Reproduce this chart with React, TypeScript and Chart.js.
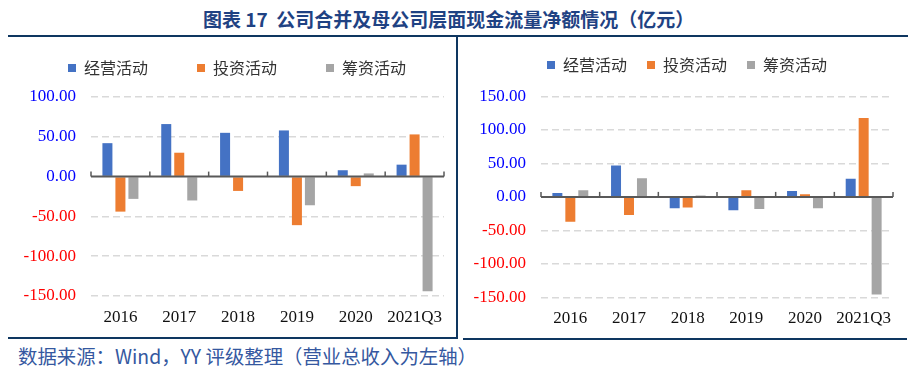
import React, { useEffect, useRef } from "react";
import { Chart, registerables } from "chart.js";

Chart.register(...registerables);

const categories = ["2016", "2017", "2018", "2019", "2020", "2021Q3"];
const seriesNames = ["经营活动", "投资活动", "筹资活动"];
const seriesColors = ["#4472C4", "#ED7D31", "#A5A5A5"];

// 公司合并（左图）
const consolidatedOperating = [42, 66, 55, 58, 8, 15];
const consolidatedInvesting = [-44, 30, -18, -61, -12, 53];
const consolidatedFinancing = [-28, -30, -1, -36, 4, -144];

// 母公司（右图）
const parentOperating = [6, 47, -17, -20, 9, 27];
const parentInvesting = [-37, -27, -16, 10, 4, 118];
const parentFinancing = [10, 28, 2, -18, -17, -146];

const leftAxisMin = -150;
const leftAxisMax = 100;
const rightAxisMin = -150;
const rightAxisMax = 150;
const axisStep = 50;

const TITLE = "图表 17  公司合并及母公司层面现金流量净额情况（亿元）";
const SOURCE = "数据来源：Wind，YY 评级整理（营业总收入为左轴）";

const serif = "'Liberation Serif', 'Times New Roman', serif";
const cjk = "'Noto Sans CJK SC', 'Noto Sans', sans-serif";

const zeroAxisPlugin = {
  id: "zeroAxis",
  afterDatasetsDraw(chart: any) {
    const { ctx, chartArea } = chart;
    const x = chart.scales.x;
    const y = chart.scales.y;
    const y0 = y.getPixelForValue(0);
    ctx.save();
    ctx.strokeStyle = "#595959";
    ctx.lineWidth = 2;
    ctx.beginPath();
    ctx.moveTo(chartArea.left, y0);
    ctx.lineTo(chartArea.right, y0);
    ctx.stroke();
    ctx.lineWidth = 1.5;
    const n = categories.length;
    const step = x.getPixelForValue(1) - x.getPixelForValue(0);
    const start = x.getPixelForValue(0) - step / 2;
    for (let i = 0; i <= n; i++) {
      const px = start + i * step;
      ctx.beginPath();
      ctx.moveTo(px, y0);
      ctx.lineTo(px, y0 - 5);
      ctx.stroke();
    }
    ctx.restore();
  },
};

type PanelProps = {
  values: number[][];
  min: number;
  max: number;
  left: number;
  top: number;
  width: number;
  height: number;
  legendPadding: number;
  yWidth: number;
  yPadding: number;
  rightGap: number;
  topGap: number;
  bottomPad: number;
};

function Panel(props: PanelProps) {
  const ref = useRef<HTMLCanvasElement>(null);
  useEffect(() => {
    const chart = new Chart(ref.current as HTMLCanvasElement, {
      type: "bar",
      data: {
        labels: categories,
        datasets: seriesNames.map((name, i) => ({
          label: name,
          data: props.values[i],
          backgroundColor: seriesColors[i],
          borderWidth: 0,
          xAxisID: "x",
          yAxisID: "y",
          categoryPercentage: 0.663,
          barPercentage: 0.77,
        })),
      },
      options: {
        animation: false,
        responsive: false,
        devicePixelRatio: 1,
        layout: { padding: { left: 0, right: 0, top: 0, bottom: props.bottomPad } },
        plugins: {
          legend: {
            position: "top",
            labels: {
              boxWidth: 8,
              boxHeight: 8,
              padding: props.legendPadding,
              color: "#333333",
              font: { family: cjk, size: 16 },
            },
          },
          tooltip: { enabled: false },
        },
        scales: {
          x: {
            type: "category",
            position: "bottom",
            grid: { display: false, drawTicks: false },
            border: { display: false },
            ticks: {
              color: "#111111",
              padding: 11,
              maxRotation: 0,
              autoSkip: false,
              font: { family: serif, size: 17 },
            },
          },
          y: {
            type: "linear",
            position: "left",
            min: props.min,
            max: props.max,
            ticks: {
              stepSize: axisStep,
              padding: props.yPadding,
              color: (c: any) => (c.tick && c.tick.value < 0 ? "#FF0000" : "#0000FF"),
              font: { family: serif, size: 17 },
              callback: (v: any) => Number(v).toFixed(2),
            },
            grid: {
              color: (c: any) => (c.tick && c.tick.value === 0 ? "rgba(0,0,0,0)" : "#D9D9D9"),
              lineWidth: 1.5,
              drawTicks: false,
            },
            border: { display: false, dash: [7, 4] },
            afterFit: (s: any) => {
              s.width = props.yWidth;
            },
          },
          yPad: {
            type: "linear",
            position: "right",
            display: true,
            grid: { display: false, drawTicks: false },
            border: { display: false },
            ticks: { display: false },
            afterFit: (s: any) => {
              s.width = props.rightGap;
            },
          },
          xPad: {
            type: "linear",
            position: "top",
            display: true,
            grid: { display: false, drawTicks: false },
            border: { display: false },
            ticks: { display: false },
            afterFit: (s: any) => {
              s.height = props.topGap;
            },
          },
        },
      } as any,
      plugins: [zeroAxisPlugin],
    });
    return () => chart.destroy();
  }, []);
  return (
    <canvas
      ref={ref}
      width={props.width}
      height={props.height}
      style={{
        position: "absolute",
        left: props.left,
        top: props.top,
        width: props.width,
        height: props.height,
      }}
    />
  );
}

export default function App() {
  const navy = "#0E3660";
  return (
    <div
      style={{
        position: "fixed",
        left: 0,
        top: 0,
        width: 920,
        height: 376,
        background: "#ffffff",
        overflow: "hidden",
      }}
    >
      <div
        style={{
          position: "absolute",
          left: 203,
          top: 7,
          fontFamily: cjk,
          fontWeight: 700,
          fontSize: 19,
          lineHeight: "24px",
          color: "#1F4283",
          whiteSpace: "pre",
        }}
      >
        {TITLE}
      </div>
      <div style={{ position: "absolute", left: 8, top: 35, width: 900, height: 2, background: navy }} />
      <div style={{ position: "absolute", left: 456, top: 36, width: 2, height: 303, background: navy }} />
      <div style={{ position: "absolute", left: 8, top: 337, width: 449, height: 2, background: navy }} />
      <div style={{ position: "absolute", left: 463, top: 338, width: 444, height: 1.5, background: navy }} />
      <div
        style={{
          position: "absolute",
          left: 18,
          top: 343,
          fontFamily: cjk,
          fontSize: 19.4,
          lineHeight: "26px",
          color: "#3558A0",
          whiteSpace: "pre",
        }}
      >
        {SOURCE}
      </div>
      <Panel
        values={[consolidatedOperating, consolidatedInvesting, consolidatedFinancing]}
        min={leftAxisMin}
        max={leftAxisMax}
        left={8}
        top={11}
        width={458}
        height={343}
        legendPadding={49}
        yWidth={83}
        yPadding={15}
        rightGap={22}
        topGap={11}
        bottomPad={15.6}
      />
      <Panel
        values={[parentOperating, parentInvesting, parentFinancing]}
        min={rightAxisMin}
        max={rightAxisMax}
        left={462}
        top={37}
        width={450}
        height={313}
        legendPadding={20}
        yWidth={79}
        yPadding={15}
        rightGap={19}
        topGap={13.5}
        bottomPad={10.3}
      />
    </div>
  );
}
